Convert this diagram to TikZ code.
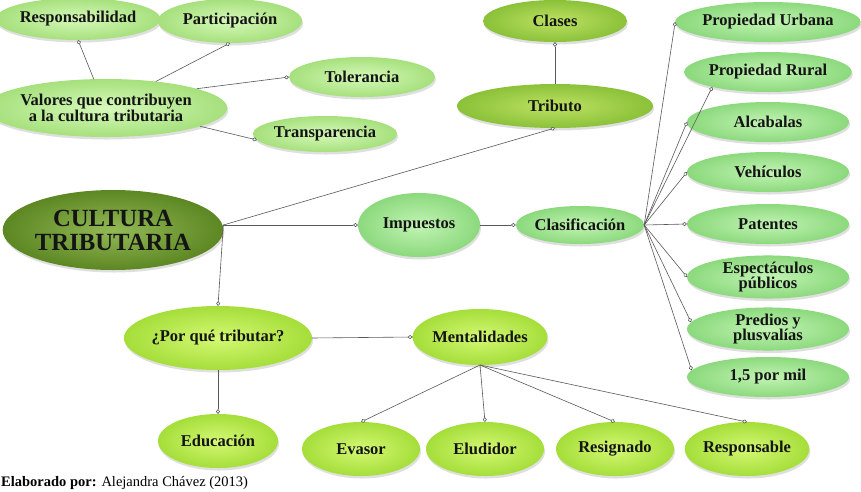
\documentclass[tikz,border=0pt]{standalone}
\usepackage{fontspec}
\setmainfont{Liberation Serif}
\usetikzlibrary{shapes.geometric,shadows,arrows.meta}
\definecolor{paleIn}{HTML}{D6F9BA}
\definecolor{paleOut}{HTML}{A6E07C}
\definecolor{limeIn}{HTML}{D4F873}
\definecolor{limeOut}{HTML}{A5DE3A}
\definecolor{mintIn}{HTML}{C2F4B4}
\definecolor{mintOut}{HTML}{8CD97D}
\definecolor{oliveIn}{HTML}{BDE262}
\definecolor{oliveOut}{HTML}{8BC139}
\definecolor{darkIn}{HTML}{93B955}
\definecolor{darkOut}{HTML}{5C8723}
\tikzset{
  bub/.style={ellipse, inner sep=0pt, outer sep=0pt, align=center,
    font=\bfseries\fontsize{16.5}{15.5}\selectfont, text=black!92,
    drop shadow={shadow xshift=1pt, shadow yshift=-2.5pt, opacity=0.25}},
  pale/.style={bub, shade, inner color=paleIn, outer color=paleOut},
  lime/.style={bub, shade, inner color=limeIn, outer color=limeOut},
  mint/.style={bub, shade, inner color=mintIn, outer color=mintOut},
  olive/.style={bub, shade, inner color=oliveIn, outer color=oliveOut},
  darkbub/.style={bub, shade, inner color=darkIn, outer color=darkOut,
    font=\bfseries\fontsize{24.7}{24}\selectfont},
  item/.style={mint, minimum width=162, minimum height=40},
  mbox/.style={lime, minimum width=118, minimum height=54},
  conn/.style={draw=black!65, line width=0.6pt,
    -{Diamond[open, length=5pt, width=4pt, fill=white]}}
}
\begin{document}
\begin{tikzpicture}[x=1pt,y=-1pt]
\useasboundingbox[fill=white] (0,0) rectangle (861,491);

% left group
\node[pale, minimum width=140, minimum height=42] (resp) at (78,19) {Responsabilidad};
\node[pale, minimum width=144, minimum height=44] (part) at (230,21) {Participación};
\node[pale, minimum width=198, minimum height=58] (val) at (106,108) {Valores que contribuyen\\a la cultura tributaria};
\node[pale, minimum width=146, minimum height=40] (tol) at (362,77) {Tolerancia};
\node[pale, minimum width=144, minimum height=36] (trans) at (325,134) {Transparencia};

% tributo
\node[olive, minimum width=144, minimum height=42] (clases) at (555,21) {Clases};
\node[olive, minimum width=196, minimum height=44] (trib) at (555,106) {Tributo};

% central
\node[darkbub, minimum width=210, minimum height=80] (ct) at (113,230) {CULTURA\\TRIBUTARIA};
\node[mint, minimum width=122, minimum height=64] (imp) at (419,225) {Impuestos};
\node[mint, minimum width=120, minimum height=38] (clas) at (580,225) {Clasificación};

% right column
\node[item] (i1) at (768,22) {Propiedad Urbana};
\node[item] (i2) at (768,72) {Propiedad Rural};
\node[item] (i3) at (768,122) {Alcabalas};
\node[item] (i4) at (768,172) {Vehículos};
\node[item] (i5) at (768,224) {Patentes};
\node[item] (i6) at (768,277) {Espectáculos\\públicos};
\node[item] (i7) at (768,329) {Predios y\\plusvalías};
\node[item] (i8) at (768,377) {1,5 por mil};

% lower
\node[lime, minimum width=156, minimum height=64] (por) at (218,338) {¿Por qué tributar?};
\node[lime, minimum width=120, minimum height=56] (ment) at (480,337) {Mentalidades};
\node[lime, minimum width=120, minimum height=54] (edu) at (218,441) {Educación};
\node[mbox] (eva) at (361,449) {Evasor};
\node[mbox] (elu) at (485,449) {Eludidor};
\node[mbox] (res) at (615,449) {Resignado};
\node[mbox] (rsp) at (747,449) {Responsable};

% footer
\node[anchor=base west, inner sep=0pt, font=\fontsize{14.5}{14.5}\selectfont] (foot) at (1,486.5) {\textbf{Elaborado por:} Alejandra Chávez (2013)};

% connectors
\draw[conn] (val.113) -- (resp.south);
\draw[conn] (val.28) -- (part.south);
\draw[conn] (val.12) -- (tol.west);
\draw[conn] (val.-11) -- (trans.185);
\draw[conn] (trib.north) -- (clases.south);

\coordinate (j) at (ct.east |- imp.west);
\draw[conn] (j) -- (trib.south);
\draw[conn] (j) -- (imp.west);
\draw[conn] (j) -- (por.north);
\draw[conn] (imp.east) -- (clas.west);

\draw[conn] (clas.east) -- (i1.west);
\draw[conn] (clas.east) -- (i2.195);
\draw[conn] (clas.east) -- (i3.west);
\draw[conn] (clas.east) -- (i4.west);
\draw[conn] (clas.east) -- (i5.west);
\draw[conn] (clas.east) -- (i6.west);
\draw[conn] (clas.east) -- (i7.175);
\draw[conn] (clas.east) -- (i8.175);

\draw[conn] (por.east) -- (ment.west);
\draw[conn] (por.south) -- (edu.north);
\draw[conn] (ment.south) -- (eva.north);
\draw[conn] (ment.south) -- (elu.north);
\draw[conn] (ment.south) -- (res.north);
\draw[conn] (ment.south) -- (rsp.north);
\end{tikzpicture}
\end{document}
